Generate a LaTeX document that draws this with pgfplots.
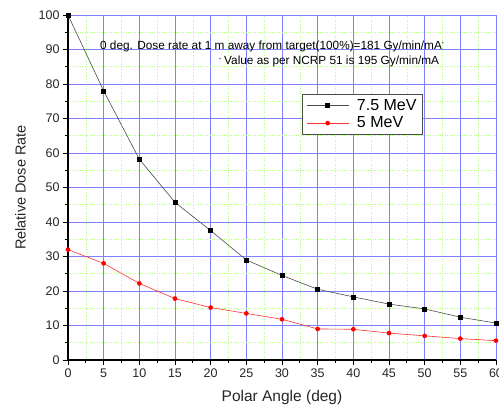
\documentclass[border=0pt]{standalone}
\usepackage{pgfplots}
\pgfplotsset{compat=1.18}
\usepackage{fontspec}
\setmainfont{Liberation Sans}
\usetikzlibrary{calc}
\begin{document}
\begin{tikzpicture}
\begin{axis}[
  name=ax,
  scale only axis,
  width=428pt, height=345pt,
  xmin=0, xmax=60, ymin=0, ymax=100,
  xtick={0,5,...,60}, ytick={0,10,...,100},
  minor x tick num=1, minor y tick num=1,
  axis lines=left,
  axis line style={-, line width=1.4pt, black},
  tick align=outside,
  major tick length=5pt, minor tick length=3pt,
  tick style={black, line width=0.9pt},
  grid=both,
  major grid style={blue!50, line width=0.9pt},
  minor grid style={green!45!lime!50, dotted, line width=0.5pt},
  ticklabel style={font=\fontsize{12.5}{12.5}\selectfont, text=black!85},
  /pgf/number format/assume math mode=true,
  xlabel={Polar Angle (deg)},
  ylabel={Relative Dose Rate},
  xlabel style={font=\fontsize{15.5}{15.5}\selectfont, text=black!85, yshift=-6pt},
  ylabel style={font=\fontsize{14.5}{14.5}\selectfont, text=black!85, yshift=6pt},
  legend style={at={(axis cs:32.8,77.1)}, anchor=north west,
    draw=black!70, line width=0.8pt, fill=white,
    font=\fontsize{16}{16}\selectfont, row sep=1pt,
    inner xsep=4pt, inner ysep=3pt},
  legend cell align=left,
  legend image code/.code={\draw[#1] (0pt,0pt) -- (42pt,0pt); \draw[#1, mark repeat=1] plot coordinates {(21pt,0pt)}; \path (48pt,0pt);},
]
\addplot[black!70, line width=0.6pt, mark=square*, mark size=2pt, mark options={black, fill=black}] coordinates {
(0,100) (5,78) (10,58.2) (15,45.7) (20,37.5) (25,29) (30,24.5) (35,20.5) (40,18.3) (45,16.2) (50,14.8) (55,12.4) (60,10.7)};
\addlegendentry{7.5 MeV}
\addplot[red!80, line width=0.6pt, mark=*, mark size=2pt, mark options={red, fill=red}] coordinates {
(0,32) (5,28) (10,22.2) (15,17.8) (20,15.2) (25,13.5) (30,11.8) (35,9) (40,8.9) (45,7.8) (50,7) (55,6.2) (60,5.6)};
\addlegendentry{5 MeV}
\node[font=\fontsize{11.8}{11.8}\selectfont, anchor=center] at (axis cs:28.6,91) {0 deg. Dose rate at 1 m away from target(100\%)=181 Gy/min/mA\raisebox{0.6ex}{\fontsize{5}{5}\selectfont *}};
\node[font=\fontsize{11.8}{11.8}\selectfont, anchor=center] at (axis cs:36.6,86.4) {\raisebox{0.6ex}{\fontsize{5}{5}\selectfont *}\ Value as per NCRP 51 is 195 Gy/min/mA};
\end{axis}
\pgfresetboundingbox
\path ($(ax.south west)+(-68pt,-53pt)$) rectangle ($(ax.north east)+(3pt,15pt)$);
\end{tikzpicture}
\end{document}
